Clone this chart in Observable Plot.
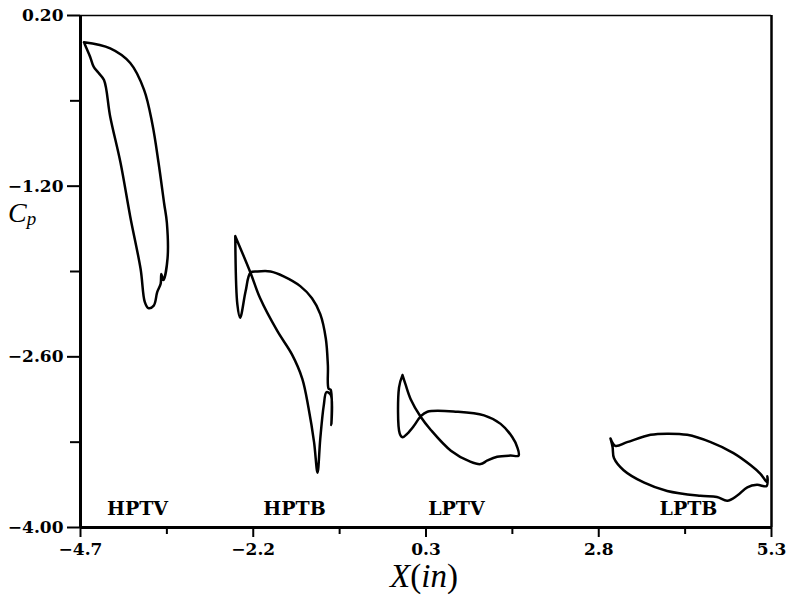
<!DOCTYPE html>
<html>
<head>
<meta charset="utf-8">
<script src="https://cdn.jsdelivr.net/npm/d3@7"></script>
<script src="https://cdn.jsdelivr.net/npm/@observablehq/plot@0.6"></script>
<style>
  body { margin: 0; background: #fff; }
  #chart svg { display: block; }
</style>
</head>
<body>
<div id="chart"></div>
<script>
// Pressure coefficient loops along the four blade rows
const series = ["HPTV", "HPTB", "LPTV", "LPTB"];

const hptvX = [-4.65, -4.27, -3.98, -3.78, -3.66, -3.57, -3.49, -3.45, -3.44, -3.50, -3.53, -3.54, -3.59, -3.64, -3.72, -3.77, -3.83, -3.98, -4.12, -4.27, -4.36, -4.44, -4.51, -4.56, -4.62, -4.65];
const hptvY = [-0.02, -0.07, -0.19, -0.41, -0.69, -1.01, -1.34, -1.50, -1.79, -1.97, -1.92, -2.00, -2.07, -2.18, -2.20, -2.15, -1.88, -1.45, -1.01, -0.63, -0.33, -0.27, -0.22, -0.14, -0.06, -0.02];

const hptbX = [-2.46, -2.43, -2.39, -2.31, -2.24, -2.14, -1.95, -1.76, -1.52, -1.35, -1.23, -1.15, -1.12, -1.11, -1.08, -1.07, -1.08, -1.14, -1.18, -1.23, -1.27, -1.32, -1.40, -1.49, -1.64, -1.85, -2.10, -2.24, -2.46];
const hptbY = [-1.61, -2.17, -2.28, -2.06, -1.91, -1.90, -1.90, -1.94, -2.02, -2.12, -2.25, -2.45, -2.67, -2.86, -2.87, -3.16, -2.91, -2.89, -3.00, -3.27, -3.55, -3.30, -3.02, -2.78, -2.58, -2.39, -2.12, -1.91, -1.61];

const lptvX = [-0.04, -0.09, -0.08, -0.04, 0.03, 0.12, 0.22, 0.32, 0.75, 1.14, 1.38, 1.55, 1.62, 1.64, 1.52, 1.33, 1.19, 1.09, 0.94, 0.66, 0.37, 0.22, 0.08, 0.00, -0.04];
const lptvY = [-2.75, -2.85, -3.23, -3.26, -3.23, -3.17, -3.09, -3.05, -3.05, -3.08, -3.15, -3.26, -3.34, -3.41, -3.41, -3.42, -3.45, -3.48, -3.46, -3.37, -3.20, -3.09, -2.95, -2.82, -2.75];

const lptbX = [2.97, 3.04, 3.21, 3.55, 3.79, 4.08, 4.42, 4.75, 5.00, 5.14, 5.24, 5.24, 5.23, 5.09, 4.95, 4.80, 4.66, 4.51, 4.27, 3.79, 3.45, 3.16, 3.02, 3.00, 2.97];
const lptbY = [-3.27, -3.33, -3.30, -3.24, -3.23, -3.24, -3.30, -3.39, -3.49, -3.56, -3.63, -3.58, -3.66, -3.65, -3.67, -3.74, -3.78, -3.75, -3.74, -3.70, -3.63, -3.53, -3.43, -3.34, -3.27];

// Row name positions under each loop
const labelX = [-3.875, -1.603, 0.741, 4.099];
const labelY = [-3.844, -3.844, -3.844, -3.844];

// Axis ticks
const xTicks = [-4.7, -2.2, 0.3, 2.8, 5.3];
const xMinor = [-3.45, -0.95, 1.55, 4.05];
const yTicks = [0.2, -1.2, -2.6, -4.0];
const yMinor = [-0.5, -1.9, -3.3];

const xs = [hptvX, hptbX, lptvX, lptbX];
const ys = [hptvY, hptbY, lptvY, lptbY];
const rows = series.flatMap((name, i) => xs[i].map((x, j) => ({name, x, y: ys[i][j]})));

const serif = "'DejaVu Serif', serif";

const chart = Plot.plot({
  width: 790,
  height: 599,
  marginLeft: 80,
  marginRight: 19,
  marginTop: 15,
  marginBottom: 72,
  x: {domain: [-4.7, 5.3]},
  y: {domain: [-4, 0.2]},
  style: {fontFamily: serif, fontWeight: "bold", fontSize: "17px", background: "#fff", color: "#000"},
  marks: [
    Plot.axisX(xTicks, {tickSize: 10, tickPadding: 5, strokeWidth: 2, fontSize: 17, fontWeight: "bold", tickFormat: d3.format(".1f"), label: null}),
    Plot.axisX(xMinor, {tickSize: 7, strokeWidth: 2, tickFormat: () => "", label: null}),
    Plot.axisY(yTicks, {tickSize: 13, tickPadding: 4, strokeWidth: 2, fontSize: 17, fontWeight: "bold", tickFormat: d3.format(".2f"), label: null}),
    Plot.axisY(yMinor, {tickSize: 10, strokeWidth: 2, tickFormat: () => "", label: null}),
    Plot.ruleY([0.2], {strokeWidth: 1.5}),
    Plot.ruleX([5.3], {strokeWidth: 2.5}),
    Plot.ruleX([-4.7], {strokeWidth: 3}),
    Plot.ruleY([-4], {strokeWidth: 3}),
    Plot.line(rows, {x: "x", y: "y", z: "name", stroke: "#000", strokeWidth: 2.5, strokeLinejoin: "round", curve: "catmull-rom"}),
    Plot.text(series, {x: labelX, y: labelY, text: d => d, fontSize: 19, fontWeight: "bold", fontFamily: serif})
  ]
});

document.getElementById("chart").append(chart);

// Axis titles in math style
const svg = d3.select(chart);
const cp = svg.append("text")
  .attr("x", 8).attr("y", 222)
  .attr("text-anchor", "start")
  .attr("font-family", "'Liberation Serif', serif")
  .attr("font-weight", "normal")
  .attr("fill", "#000");
cp.append("tspan").attr("font-size", 28).attr("font-style", "italic").text("C");
cp.append("tspan").attr("font-size", 19).attr("font-style", "italic").attr("dy", 3).text("p");

const xl = svg.append("text")
  .attr("x", 424).attr("y", 587)
  .attr("text-anchor", "middle")
  .attr("font-family", "'Liberation Serif', serif")
  .attr("font-weight", "normal")
  .attr("font-size", 33)
  .attr("fill", "#000");
xl.append("tspan").attr("font-style", "italic").text("X");
xl.append("tspan").text("(");
xl.append("tspan").attr("font-style", "italic").text("in");
xl.append("tspan").text(")");
</script>
</body>
</html>
